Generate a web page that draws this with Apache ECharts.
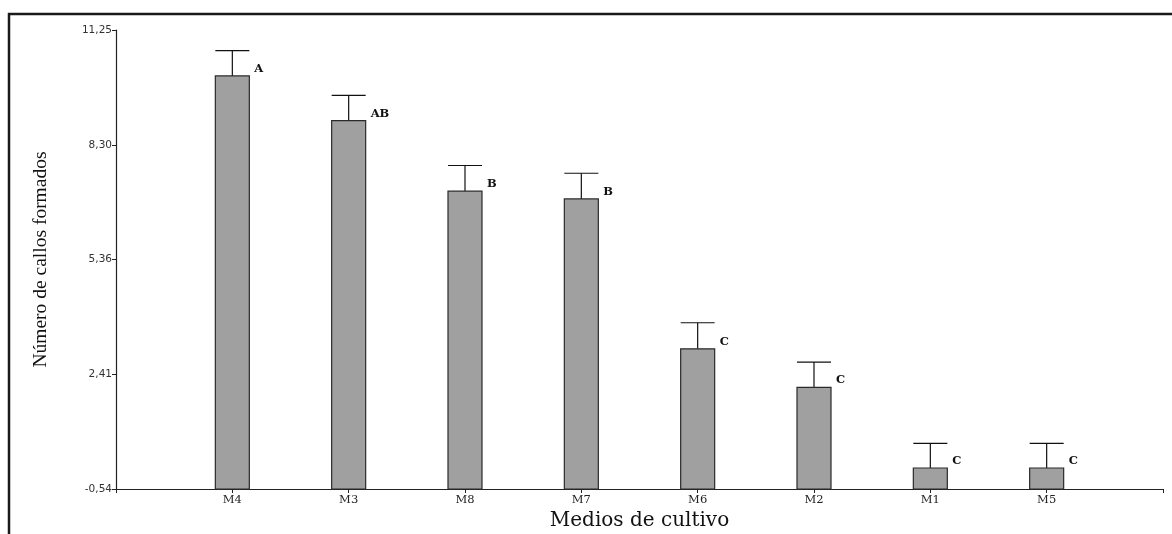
<!DOCTYPE html>
<html>
<head>
<meta charset="utf-8">
<script src="https://cdn.jsdelivr.net/npm/echarts@6/dist/echarts.min.js"></script>
<style>
  html, body { margin: 0; padding: 0; background: #fff; }
  #chart { width: 1172px; height: 534px; }
</style>
</head>
<body>
<div id="chart"></div>
<script>
// Culture media, ordered by mean number of calli formed
const media = ['M4', 'M3', 'M8', 'M7', 'M6', 'M2', 'M1', 'M5'];
const meanCalli = [10.07, 8.92, 7.11, 6.91, 3.06, 2.07, 0.0, 0.0];
const stdError = [0.65, 0.65, 0.66, 0.66, 0.67, 0.65, 0.63, 0.63];
const groupLetters = ['A', 'AB', 'B', 'B', 'C', 'C', 'C', 'C'];
const yTicks = [-0.54, 2.41, 5.36, 8.30, 11.25];

const yMin = yTicks[0];
const yMax = yTicks[yTicks.length - 1];

// Empty slots on each side keep the bars away from the axis ends
const categories = [''].concat(media, ['']);
const seriesData = media.map((m, i) => [m, meanCalli[i], stdError[i]]);

const serif = '"Liberation Serif", "Times New Roman", serif';
const wideSerif = '"DejaVu Serif", serif';
const sans = '"DejaVu Sans", sans-serif';

const chart = echarts.init(document.getElementById('chart'), null, { renderer: 'canvas' });

// Bar from the axis floor up to the mean, with an upper error whisker and a group letter
function renderBar(params, api) {
  const xi = api.value(0);
  const v = api.value(1);
  const e = api.value(2);
  const base = api.coord([xi, yMin]);
  const top = api.coord([xi, v]);
  const errTop = api.coord([xi, v + e]);
  const w = 34;
  const cx = base[0];
  return {
    type: 'group',
    children: [
      {
        type: 'line',
        shape: { x1: cx, y1: top[1], x2: cx, y2: errTop[1] },
        style: { stroke: '#111', lineWidth: 1.2 }
      },
      {
        type: 'line',
        shape: { x1: cx - w / 2, y1: errTop[1], x2: cx + w / 2, y2: errTop[1] },
        style: { stroke: '#111', lineWidth: 1.2 }
      },
      {
        type: 'rect',
        shape: { x: cx - w / 2, y: top[1], width: w, height: base[1] - top[1] },
        style: { fill: '#a0a0a0', stroke: '#2a2a2a', lineWidth: 1.2 }
      },
      {
        type: 'text',
        x: cx + w / 2 + 5,
        y: top[1] - 7,
        style: {
          text: groupLetters[params.dataIndex],
          fill: '#111',
          font: 'bold 11.5px ' + wideSerif,
          verticalAlign: 'middle',
          align: 'left'
        }
      }
    ]
  };
}

chart.setOption({
  animation: false,
  backgroundColor: '#fff',
  grid: { left: 116, right: 9, top: 30, bottom: 45, containLabel: false, outerBoundsMode: 'none' },
  xAxis: {
    type: 'category',
    data: categories,
    boundaryGap: false,
    name: 'Medios de cultivo',
    nameLocation: 'middle',
    nameGap: 20,
    nameTextStyle: { fontFamily: wideSerif, fontSize: 20, color: '#111' },
    axisLine: { onZero: false, lineStyle: { color: '#222', width: 1.2 } },
    axisTick: { show: true, length: 4, lineStyle: { color: '#222' } },
    axisLabel: {
      interval: 0,
      margin: 5,
      fontFamily: wideSerif,
      fontSize: 11.5,
      color: '#222'
    },
    splitLine: { show: false }
  },
  yAxis: {
    type: 'value',
    min: yMin,
    max: yMax,
    name: 'Número de callos formados',
    nameLocation: 'middle',
    nameRotate: 90,
    nameGap: 65,
    nameTextStyle: { fontFamily: serif, fontSize: 19.5, color: '#111' },
    axisLine: { show: true, lineStyle: { color: '#222', width: 1.2 } },
    axisTick: { show: true, length: 4, customValues: yTicks, lineStyle: { color: '#222' } },
    axisLabel: {
      customValues: yTicks,
      margin: 4,
      fontFamily: sans,
      fontSize: 10.5,
      color: '#333',
      formatter: (val) => val.toFixed(2).replace('.', ',')
    },
    splitLine: { show: false }
  },
  series: [{
    type: 'custom',
    renderItem: renderBar,
    encode: { x: 0, y: 1 },
    data: seriesData,
    clip: false
  }],
  graphic: [
    {
      type: 'line',
      shape: { x1: 8, y1: 14, x2: 1172, y2: 14 },
      style: { stroke: '#1a1a1a', lineWidth: 2.5 }
    },
    {
      type: 'line',
      shape: { x1: 9, y1: 13, x2: 9, y2: 534 },
      style: { stroke: '#1a1a1a', lineWidth: 2.5 }
    }
  ]
});
</script>
</body>
</html>
